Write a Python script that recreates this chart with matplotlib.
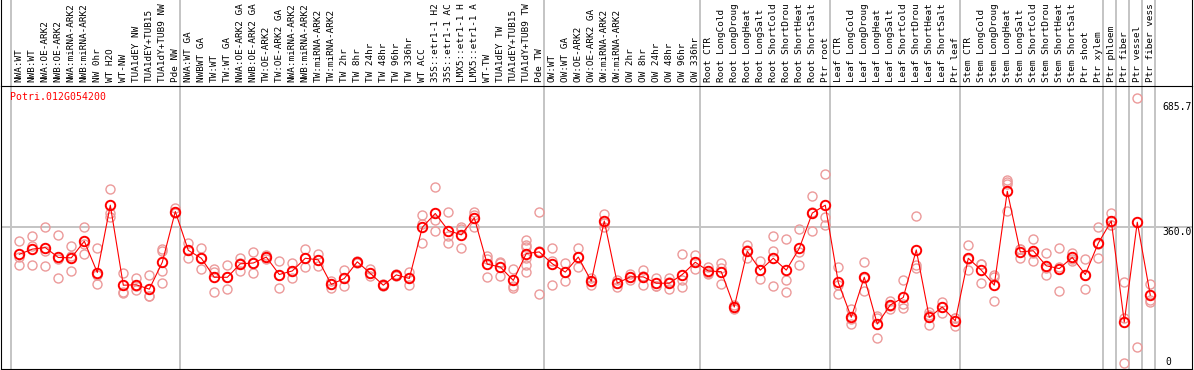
import matplotlib
matplotlib.use('Agg')
import numpy as np
import matplotlib.pyplot as plt
from matplotlib.lines import Line2D

# sample names, one column each (long ones are cut to what fits above the plot)
labels = [
    "NWA:WT", "NWB:WT", "NWA:OE-ARK2", "NWB:OE-ARK2", "NWA:miRNA-ARK2", "NWB:miRNA-ARK2",
    "NW 0hr", "WT H2O", "WT-NW", "TUA1dEY NW", "TUA1dEY+TUB15", "TUA1dY+TUB9 NW", "Pde NW",
    "NWA:WT GA", "NWBWT GA", "TW:WT", "TW:WT GA", "NWA:OE-ARK2 GA", "NWB:OE-ARK2 GA",
    "TW:OE-ARK2", "TW:OE-ARK2 GA", "NWA:miRNA-ARK2", "NWB:miRNA-ARK2", "TW:miRNA-ARK2",
    "TW:miRNA-ARK2", "TW 2hr", "TW 8hr", "TW 24hr", "TW 48hr", "TW 96hr", "TW 336hr", "WT ACC",
    "35S::etr1-1 H2", "35S::etr1-1 AC", "LMX5::etr1-1 H", "LMX5::etr1-1 A", "WT-TW",
    "TUA1dEY TW", "TUA1dEY+TUB15", "TUA1dY+TUB9 TW", "Pde TW",
    "OW:WT", "OW:WT GA", "OW:OE-ARK2", "OW:OE-ARK2 GA", "OW:miRNA-ARK2", "OW:miRNA-ARK2",
    "OW 2hr", "OW 8hr", "OW 24hr", "OW 48hr", "OW 96hr", "OW 336hr",
    "Root CTR", "Root LongCold", "Root LongDroug", "Root LongHeat", "Root LongSalt",
    "Root ShortCold", "Root ShortDrou", "Root ShortHeat", "Root ShortSalt", "Ptr root",
    "Leaf CTR", "Leaf LongCold", "Leaf LongDroug", "Leaf LongHeat", "Leaf LongSalt",
    "Leaf ShortCold", "Leaf ShortDrou", "Leaf ShortHeat", "Leaf ShortSalt", "Ptr leaf",
    "Stem CTR", "Stem LongCold", "Stem LongDroug", "Stem LongHeat", "Stem LongSalt",
    "Stem ShortCold", "Stem ShortDrou", "Stem ShortHeat", "Stem ShortSalt", "Ptr shoot",
    "Ptr xylem", "Ptr phloem", "Ptr fiber", "Ptr vessel", "Ptr fiber vess",
]

# mean expression per sample
means = [
    292, 305, 309, 284, 283, 325, 246, 416, 214, 215, 204, 272, 400,
    302, 282, 234, 234, 268, 270, 285, 241, 250, 282, 278, 216, 231, 273, 244, 214,
    240, 231, 360, 395, 352, 341, 384, 267, 260, 226, 294, 298,
    268, 247, 285, 224, 376, 219, 235, 235, 219, 219, 241, 272,
    250, 248, 159, 300, 252, 282, 252, 307, 396, 416,
    221, 133, 234, 116, 164, 183, 303, 133, 159, 124,
    282, 252, 214, 451, 298, 301, 263, 256, 284, 241, 320, 376, 121, 373, 189,
]

# replicate values per sample
reps = [
    [325, 284, 264], [337, 314, 264], [360, 301, 262], [341, 279, 232], [312, 287, 250],
    [362, 319, 294], [308, 240, 216], [458, 397, 387], [244, 198, 194], [233, 211, 203],
    [239, 188, 186], [305, 300, 250, 219], [409, 400, 395],
    [320, 302, 283], [308, 282, 256], [254, 248, 198], [264, 234, 204], [283, 270, 250],
    [297, 270, 244], [291, 285, 280], [274, 241, 207], [270, 250, 231], [305, 282, 261],
    [293, 278, 263], [225, 216, 208], [252, 231, 213], [276, 273, 270], [255, 244, 236],
    [217, 214, 211], [243, 240, 236], [247, 231, 215], [390, 368, 321], [461, 379, 350],
    [400, 337, 320], [360, 356, 307], [400, 390, 362], [288, 279, 234], [273, 271, 236],
    [256, 211, 208], [328, 315, 310, 282, 264, 247], [400, 301, 193],
    [309, 276, 214], [270, 247, 224], [309, 285, 260], [233, 224, 214], [394, 372, 362],
    [227, 219, 210], [242, 235, 227], [252, 237, 215], [233, 213, 211], [231, 221, 205],
    [293, 228, 209], [289, 272, 255],
    [261, 246, 243], [270, 258, 216], [163, 159, 154], [315, 303, 282], [274, 252, 229],
    [337, 300, 212], [330, 227, 197], [356, 297, 264], [439, 400, 350], [495, 385, 366],
    [260, 214, 191], [154, 128, 117], [272, 232, 199], [136, 130, 82], [175, 162, 155],
    [227, 166, 156], [389, 264, 258], [146, 139, 114], [172, 159, 144], [130, 130, 112],
    [315, 280, 252], [268, 268, 219], [240, 235, 174], [480, 474, 469, 402], [305, 305, 283],
    [331, 296, 276], [295, 258, 239], [309, 260, 199], [296, 281, 275], [280, 240, 204],
    [360, 318, 282], [395, 366, 366], [221, 130, 17], [686, 57], [216, 177, 171],
]

# last column of each group (gray separators)
group_ends = [0, 13, 41, 53, 63, 73, 84, 85, 86, 87, 88]

gene = "Potri.012G054200"
ytick_vals = ["685.7", "360.0", "0"]

W, H = 1194, 370
fig = plt.figure(figsize=(W / 100, H / 100), dpi=100)
ax = fig.add_axes([1 / W, 1 / H, 1191 / W, 283.5 / H])
x = np.arange(1, len(labels) + 1)
ax.set_xlim(-0.408, 91.21)
ax.set_ylim(2.5, 718)
ax.set_xticks([])
ax.set_yticks([])
for s in ax.spines.values():
    s.set_linewidth(0.8)
    s.set_color('black')

grey = '#c4c4c4'
top_ext = (283.5 + 85.5) / 283.5
for g in group_ends:
    ax.axvline(g + 0.385, ymin=0, ymax=top_ext, color=grey, lw=1.4, zorder=0.5, clip_on=False)
ax.axhline(360, color=grey, lw=1.4, zorder=0.5)

# replicates
for i, r in enumerate(reps):
    ax.plot([i + 1] * len(r), r, 'o', mfc='none', mec='#ec9a9a', ms=6.5, mew=1.0, zorder=2)

# means
ax.plot(x, means, '-', color='red', lw=0.8, zorder=3)
ax.plot(x, means, 'o', mfc='none', mec='red', ms=6.8, mew=1.4, zorder=4)

# column labels above the plot
lab_y = 1 - 82 / H
for xi, lab in zip(x, labels):
    xf = ax.transData.transform((xi, 0))[0] / W
    fig.text(xf, lab_y, lab, rotation=90, ha='center', va='bottom',
             family='DejaVu Sans Mono', fontsize=6.75, color='black')

# frame around label area
fig.add_artist(Line2D([1.4 / W, 1.4 / W], [(H - 85.5) / H, 1], transform=fig.transFigure, color='k', lw=0.8))
fig.add_artist(Line2D([1191.6 / W, 1191.6 / W], [(H - 85.5) / H, 1], transform=fig.transFigure, color='k', lw=0.8))

fig.text(10 / W, 1 - 97.5 / H, gene, color='red', family='DejaVu Sans Mono',
         fontsize=7.1, ha='left', va='center')

for val, px, py in zip(ytick_vals, [1162, 1162, 1165], [107, 231.7, 362]):
    fig.text(px / W, 1 - py / H, val, family='DejaVu Sans Mono', fontsize=7.0,
             ha='left', va='center', color='black')

fig.savefig('out.png', dpi=100)
